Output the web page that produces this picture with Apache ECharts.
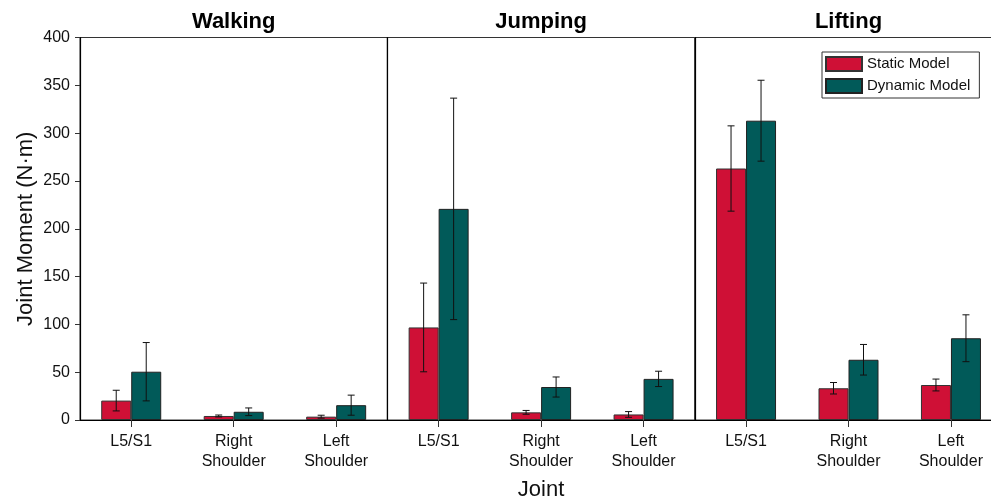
<!DOCTYPE html>
<html>
<head>
<meta charset="utf-8">
<script src="https://cdn.jsdelivr.net/npm/echarts@6/dist/echarts.min.js"></script>
<style>
  html, body { margin: 0; padding: 0; background: #fff; }
  #chart { width: 991px; height: 500px; }
</style>
</head>
<body>
<div id="chart"></div>
<script>
// Joint moments per task, static vs dynamic model (mean and standard deviation, N·m)
const activities = ['Walking', 'Jumping', 'Lifting'];
const joints = ['L5/S1', 'Right\nShoulder', 'Left\nShoulder'];
const yTicks = [0, 50, 100, 150, 200, 250, 300, 350, 400];

const walkingStatic = [20.3, 4.2, 3.5];
const walkingStaticSd = [10.8, 1.0, 1.5];
const walkingDynamic = [50.5, 8.6, 15.5];
const walkingDynamicSd = [30.5, 4.0, 10.5];

const jumpingStatic = [96.8, 8.0, 5.8];
const jumpingStaticSd = [46.4, 2.0, 3.0];
const jumpingDynamic = [220.8, 34.5, 43.0];
const jumpingDynamicSd = [115.8, 10.5, 8.0];

const liftingStatic = [263.0, 33.2, 36.6];
const liftingStaticSd = [44.6, 6.0, 6.2];
const liftingDynamic = [313.0, 63.0, 85.5];
const liftingDynamicSd = [42.3, 16.0, 24.5];

const staticSets = [walkingStatic, jumpingStatic, liftingStatic];
const staticSdSets = [walkingStaticSd, jumpingStaticSd, liftingStaticSd];
const dynamicSets = [walkingDynamic, jumpingDynamic, liftingDynamic];
const dynamicSdSets = [walkingDynamicSd, jumpingDynamicSd, liftingDynamicSd];

const FONT = "'Liberation Sans', Arial, Helvetica, sans-serif";
const RED = '#CF1036';
const TEAL = '#015A59';
const BAR_W = 30;
const PANEL_LEFT = 80;
const PANEL_W = 307.4;
const TOP = 37.5;
const BOTTOM = 80;

const chart = echarts.init(document.getElementById('chart'), null, { renderer: 'canvas' });

const grids = [], xAxes = [], yAxes = [], series = [], titles = [];

function errorBars(gi, means, sds, offset) {
  return {
    type: 'custom',
    xAxisIndex: gi,
    yAxisIndex: gi,
    z: 10,
    silent: true,
    data: means.map((m, i) => [i, m - sds[i], m + sds[i]]),
    renderItem: (params, api) => {
      const lo = api.coord([api.value(0), api.value(1)]);
      const hi = api.coord([api.value(0), api.value(2)]);
      const x = lo[0] + offset;
      const cap = 3.5;
      const style = { stroke: '#111', lineWidth: 1 };
      return {
        type: 'group',
        children: [
          { type: 'line', shape: { x1: x, y1: lo[1], x2: x, y2: hi[1] }, style },
          { type: 'line', shape: { x1: x - cap, y1: hi[1], x2: x + cap, y2: hi[1] }, style },
          { type: 'line', shape: { x1: x - cap, y1: lo[1], x2: x + cap, y2: lo[1] }, style }
        ]
      };
    }
  };
}

activities.forEach((act, gi) => {
  const left = PANEL_LEFT + gi * PANEL_W;
  grids.push({
    left: left, width: PANEL_W, top: TOP, bottom: BOTTOM,
    outerBoundsMode: 'none',
    containLabel: false,
    show: true, borderColor: '#333', borderWidth: 1, backgroundColor: 'transparent'
  });
  titles.push({
    text: act,
    left: left + PANEL_W / 2,
    top: 11,
    textAlign: 'center',
    padding: 0,
    textStyle: { fontFamily: FONT, fontSize: 22, fontWeight: 'bold', color: '#000' }
  });
  xAxes.push({
    type: 'category',
    gridIndex: gi,
    data: joints,
    axisLine: { show: true, lineStyle: { color: '#000', width: 1.2 } },
    axisTick: { show: true, alignWithLabel: true, length: 7, lineStyle: { color: '#333' } },
    axisLabel: { fontFamily: FONT, fontSize: 16, color: '#111', margin: 12, lineHeight: 20, interval: 0 },
    name: gi === 1 ? 'Joint' : '',
    nameLocation: 'middle',
    nameGap: 59,
    nameTextStyle: { fontFamily: FONT, fontSize: 22, color: '#111' }
  });
  yAxes.push({
    type: 'value',
    gridIndex: gi,
    min: yTicks[0],
    max: yTicks[yTicks.length - 1],
    interval: yTicks[1] - yTicks[0],
    splitLine: { show: false },
    axisLine: { show: true, lineStyle: { color: '#000', width: 1.2 } },
    axisTick: { show: gi === 0, length: 5, lineStyle: { color: '#333' } },
    axisLabel: { show: gi === 0, fontFamily: FONT, fontSize: 16, color: '#111', margin: 10 },
    name: gi === 0 ? 'Joint Moment (N·m)' : '',
    nameLocation: 'middle',
    nameGap: 43,
    nameTextStyle: { fontFamily: FONT, fontSize: 22, color: '#111' }
  });
  series.push({
    name: 'Static Model',
    type: 'bar',
    xAxisIndex: gi, yAxisIndex: gi,
    data: staticSets[gi],
    barWidth: BAR_W,
    barGap: '0%',
    itemStyle: { color: RED, borderColor: '#333', borderWidth: 1 }
  });
  series.push({
    name: 'Dynamic Model',
    type: 'bar',
    xAxisIndex: gi, yAxisIndex: gi,
    data: dynamicSets[gi],
    barWidth: BAR_W,
    barGap: '0%',
    itemStyle: { color: TEAL, borderColor: '#222', borderWidth: 1 }
  });
  series.push(errorBars(gi, staticSets[gi], staticSdSets[gi], -BAR_W / 2));
  series.push(errorBars(gi, dynamicSets[gi], dynamicSdSets[gi], BAR_W / 2));
});

chart.setOption({
  animation: false,
  backgroundColor: '#fff',
  title: titles,
  grid: grids,
  xAxis: xAxes,
  yAxis: yAxes,
  legend: {
    data: ['Static Model', 'Dynamic Model'],
    icon: 'rect',
    orient: 'vertical',
    left: 822,
    top: 52,
    itemWidth: 36,
    itemHeight: 14,
    itemGap: 6,
    itemTextGap: 7,
    padding: [4, 9, 4, 3],
    borderColor: '#333',
    borderWidth: 1,
    backgroundColor: '#fff',
    textStyle: { fontFamily: FONT, fontSize: 15, color: '#111' }
  },
  series: series
});
</script>
</body>
</html>
